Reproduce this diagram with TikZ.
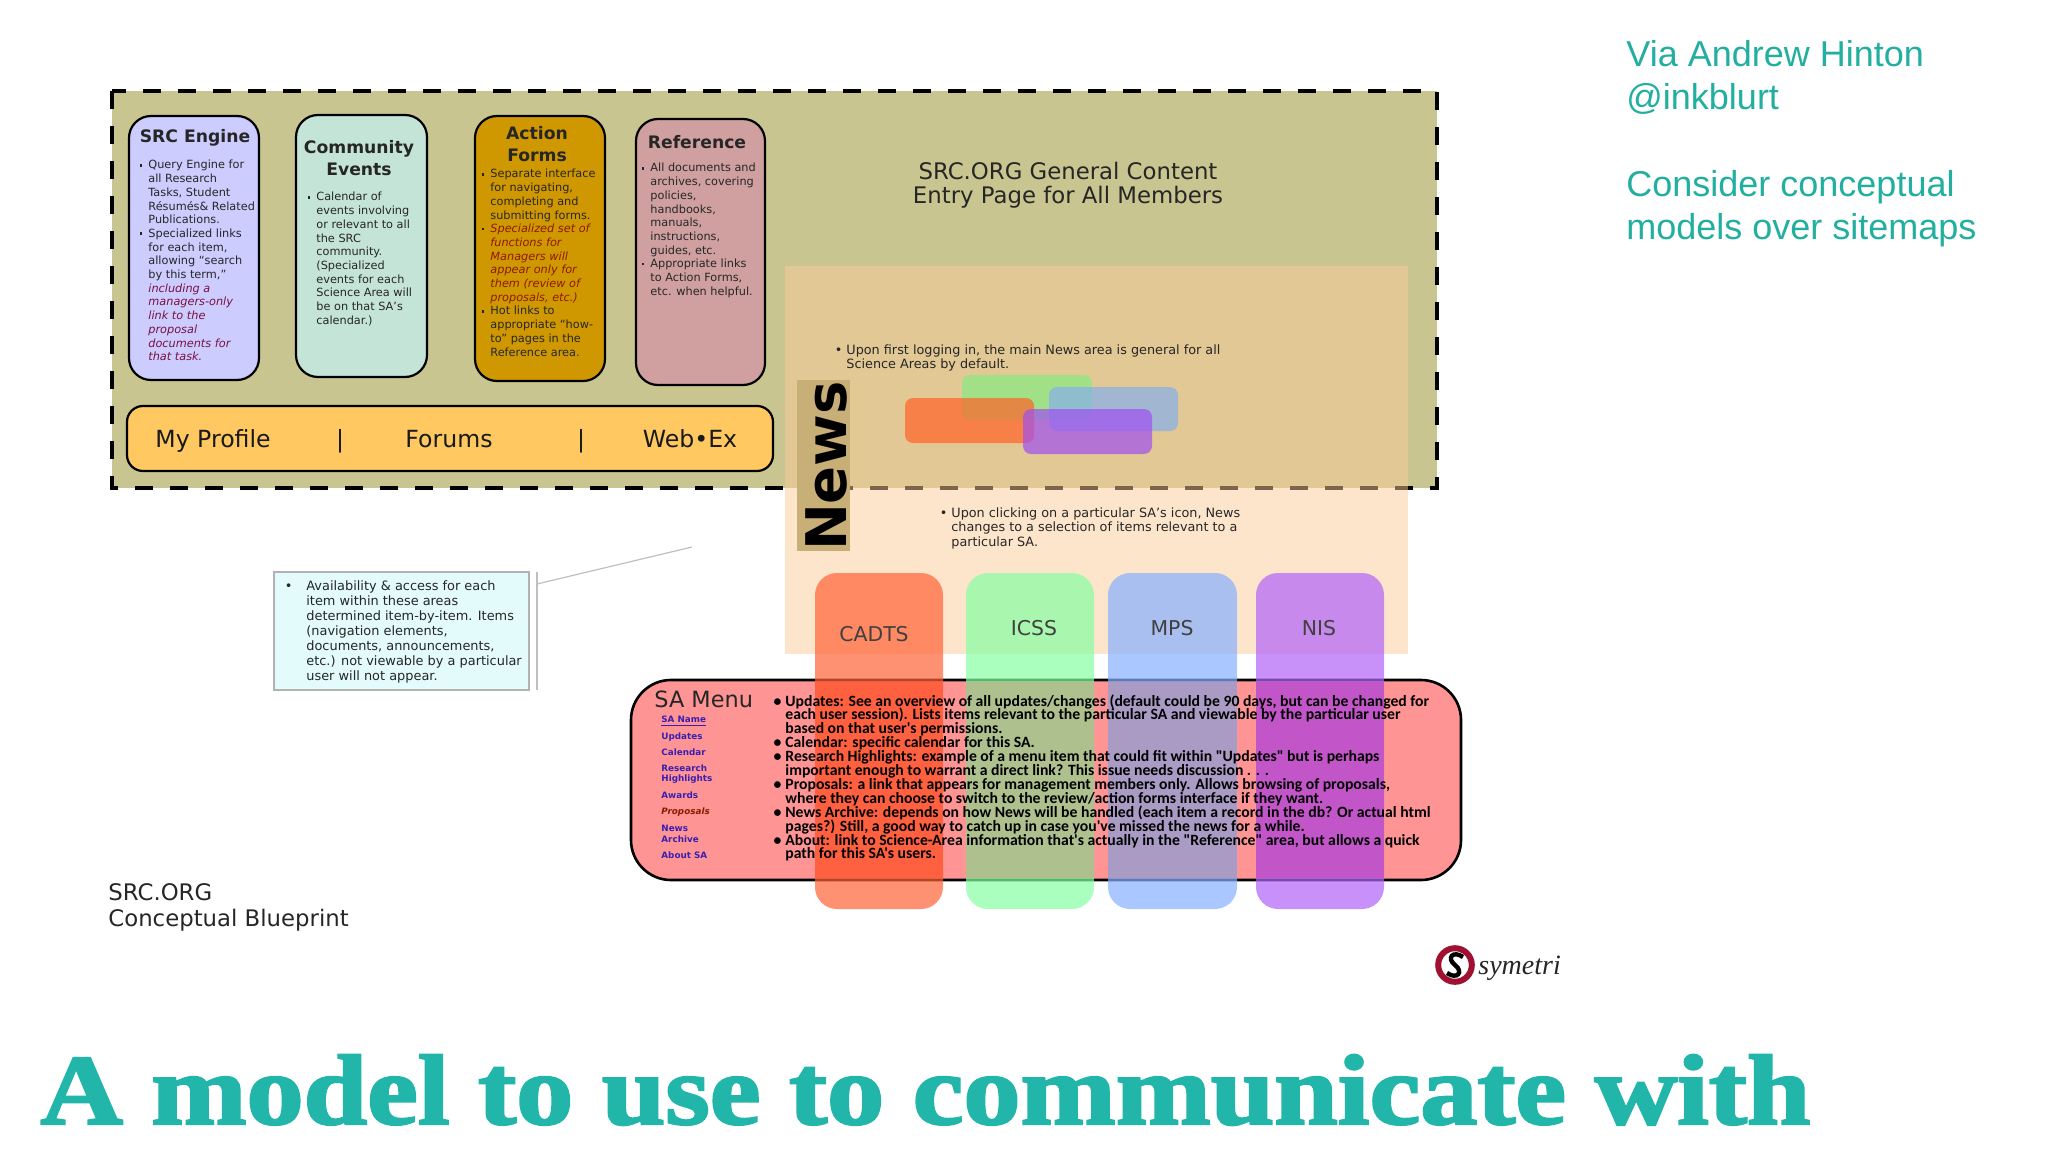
\documentclass[tikz,border=0pt]{standalone}
\usepackage{graphicx}
\usepackage{fontspec}
\setmainfont{DejaVu Sans}
\newfontfamily\menufont{Carlito}
\newfontfamily\sidefont{Liberation Sans}
\newfontfamily\titlefont{Liberation Serif}
\newfontfamily\slidefont[FakeBold=2.2]{Liberation Serif}
\usepackage{tikz}
\definecolor{olive back}{RGB}{201,197,144}
\definecolor{peach over}{RGB}{251,203,153}
\definecolor{news tag}{RGB}{200,175,120}
\definecolor{teal side}{RGB}{34,175,160}
\definecolor{teal title}{RGB}{34,181,170}
\definecolor{red note}{RGB}{122,16,64}
\definecolor{rust note}{RGB}{139,26,0}
\definecolor{link blue}{RGB}{58,31,176}
\definecolor{menu pink}{RGB}{255,148,148}
\definecolor{src fill}{RGB}{204,204,255}
\definecolor{community fill}{RGB}{196,228,216}
\definecolor{action fill}{RGB}{208,152,0}
\definecolor{reference fill}{RGB}{208,160,160}
\definecolor{bar fill}{RGB}{255,200,96}
\definecolor{cadts tab}{RGB}{255,98,55}
\definecolor{icss tab}{RGB}{134,255,162}
\definecolor{mps tab}{RGB}{134,176,255}
\definecolor{nis tab}{RGB}{176,98,248}
\definecolor{cadts mix}{RGB}{255,96,64}
\definecolor{icss mix}{RGB}{173,192,142}
\definecolor{mps mix}{RGB}{169,155,196}
\definecolor{nis mix}{RGB}{194,86,200}
\definecolor{green mini}{RGB}{134,235,130}
\definecolor{blue mini}{RGB}{134,176,235}
\definecolor{orange mini}{RGB}{255,98,40}
\definecolor{purple mini}{RGB}{160,80,240}
\definecolor{callout fill}{RGB}{228,251,251}
\definecolor{logo red}{RGB}{160,16,48}
\newcommand{\tightlines}{\lineskiplimit=-10pt\relax}
\tikzset{
	areabox/.style={draw=black, line width=1.1pt, rounded corners=11pt},
	tabbox/.style={rounded corners=11pt, opacity=0.7},
	minibox/.style={rounded corners=4pt, opacity=0.7},
	heading/.style={align=center, font=\bfseries\fontsize{8.6}{11}\selectfont, text=black!85},
	bodytext/.style={anchor=north west, align=left, inner sep=0pt, font=\fontsize{5.65}{6.85}\selectfont\tightlines, text=black!85},
	notetext/.style={anchor=north west, align=left, inner sep=0pt, font=\fontsize{6.4}{7.3}\selectfont\tightlines, text=black!85},
	tablabel/.style={font=\fontsize{10.2}{12}\selectfont, text=black!75},
	barlabel/.style={anchor=base, font=\fontsize{11.8}{13}\selectfont, text=black!90},
	linklabel/.style={anchor=west, inner sep=0pt, font=\bfseries\fontsize{4.4}{5.4}\selectfont, text=link blue},
	sidetext/.style={anchor=base west, inner sep=0pt, font=\sidefont\fontsize{18}{21}\selectfont, text=teal side}
}
\newcommand{\sqmark}{\leavevmode\llap{\rule[1.2pt]{1.3pt}{1.3pt}\hspace{3pt}}}
\newcommand{\dotmark}{\leavevmode\llap{\textbullet\hspace{2pt}}}
\begin{document}
\begin{tikzpicture}[x=0.5pt,y=-0.5pt]
	\useasboundingbox (0,0) rectangle (2048,1150);
	% general area
	\draw[black, fill=olive back, line width=2.3pt, dash pattern=on 9pt off 8.5pt] (112,91) rectangle (1437,488);
	\draw[areabox, fill=src fill] (129,116) rectangle (259,380);
	\draw[areabox, fill=community fill] (296,115) rectangle (427,377);
	\draw[areabox, fill=action fill] (475,116) rectangle (605,381);
	\draw[areabox, fill=reference fill] (636,119) rectangle (765,385);
	\node[heading] (srctitle) at (195,138) {SRC Engine};
	\node[heading] (communitytitle) at (359,158) {Community\\Events};
	\node[heading] (actiontitle) at (537,144) {Action\\Forms};
	\node[heading] (referencetitle) at (697,142) {Reference};
	\node[bodytext] (srcbody) at (148,160) {\sqmark Query Engine for\\all Research\\Tasks, Student\\Résumés\&{} Related\\Publications.\\\sqmark Specialized links\\for each item,\\allowing ``search\\by this term,''\\\color{red note}\itshape including a\\\color{red note}\itshape managers-only\\\color{red note}\itshape link to the\\\color{red note}\itshape proposal\\\color{red note}\itshape documents for\\\color{red note}\itshape that task.};
	\node[bodytext] (communitybody) at (316,192) {\sqmark Calendar of\\events involving\\or relevant to all\\the SRC\\community.\\(Specialized\\events for each\\Science Area will\\be on that SA's\\calendar.)};
	\node[bodytext] (actionbody) at (490,169) {\sqmark Separate interface\\for navigating,\\completing and\\submitting forms.\\\sqmark\color{rust note}\itshape Specialized set of\\\color{rust note}\itshape functions for\\\color{rust note}\itshape Managers will\\\color{rust note}\itshape appear only for\\\color{rust note}\itshape them (review of\\\color{rust note}\itshape proposals, etc.)\\\sqmark Hot links to\\appropriate ``how-\\to'' pages in the\\Reference area.};
	\node[bodytext] (referencebody) at (650,163) {\sqmark All documents and\\archives, covering\\policies,\\handbooks,\\manuals,\\instructions,\\guides, etc.\\\sqmark Appropriate links\\to Action Forms,\\etc. when helpful.};
	\draw[areabox, rounded corners=8pt, fill=bar fill] (127,406) rectangle (773,471);
	\node[barlabel] (myprofile) at (213,447) {My Profile};
	\node[barlabel] (barone) at (340,447) {|};
	\node[barlabel] (forums) at (449,447) {Forums};
	\node[barlabel] (bartwo) at (581,447) {|};
	\node[barlabel] (webex) at (690,447) {Web•Ex};
	\node[align=center, font=\fontsize{11.4}{11.8}\selectfont, text=black!85] (generaltitle) at (1068,185) {SRC.ORG General Content\\Entry Page for All Members};
	% news area
	\fill[peach over, opacity=0.5] (785,266) rectangle (1408,654);
	\fill[news tag] (797,380) rectangle (850,551);
	\node[rotate=90, inner sep=0pt, font=\bfseries\fontsize{28}{30}\selectfont, text=black] (newstag) at (826,466) {News};
	\fill[minibox, green mini] (962,375) rectangle (1092,420);
	\fill[minibox, blue mini] (1049,387) rectangle (1178,431);
	\fill[minibox, orange mini] (905,398) rectangle (1034,443);
	\fill[minibox, purple mini] (1023,409) rectangle (1152,454);
	\node[notetext] (firstnote) at (846,344) {\dotmark Upon first logging in, the main News area is general for all\\Science Areas by default.};
	\node[notetext] (secondnote) at (951,507) {\dotmark Upon clicking on a particular SA's icon, News\\changes to a selection of items relevant to a\\particular SA.};
	% science area menu
	\draw[fill=menu pink, line width=1.3pt, rounded corners=20pt] (631,680) rectangle (1461,880);
	\fill[tabbox, cadts tab] (815,573) rectangle (943,909);
	\fill[tabbox, icss tab] (966,573) rectangle (1094,909);
	\fill[tabbox, mps tab] (1108,573) rectangle (1237,909);
	\fill[tabbox, nis tab] (1256,573) rectangle (1384,909);
	\fill[cadts mix] (815,682) rectangle (943,878);
	\fill[icss mix] (966,682) rectangle (1094,878);
	\fill[mps mix] (1108,682) rectangle (1237,878);
	\fill[nis mix] (1256,682) rectangle (1384,878);
	\node[tablabel] (cadts) at (874,634) {CADTS};
	\node[tablabel] (icss) at (1034,628) {ICSS};
	\node[tablabel] (mps) at (1172,628) {MPS};
	\node[tablabel] (nis) at (1319,628) {NIS};
	\node[anchor=west, inner sep=0pt, font=\fontsize{11.2}{14}\selectfont, text=black!85] (samenu) at (654,699) {SA Menu};
	\node[linklabel] (saname) at (661,721) {\underline{SA Name}};
	\node[linklabel] (updates) at (661,737) {Updates};
	\node[linklabel] (calendar) at (661,752) {Calendar};
	\node[linklabel, align=left] (highlights) at (661,774) {Research\\Highlights};
	\node[linklabel] (awards) at (661,795) {Awards};
	\node[linklabel, text=rust note, font=\bfseries\itshape\fontsize{4.4}{5.4}\selectfont] (proposals) at (661,812) {Proposals};
	\node[linklabel, align=left] (archive) at (661,834) {News\\Archive};
	\node[linklabel] (aboutsa) at (661,855) {About SA};
	\node[anchor=north west, align=left, inner sep=0pt, font=\menufont\bfseries\fontsize{7.85}{6.95}\selectfont\tightlines, text=black] (menutext) at (785,694) {\dotmark Updates: See an overview of all updates/changes (default could be 90 days, but can be changed for\\each user session). Lists items relevant to the particular SA and viewable by the particular user\\based on that user's permissions.\\\dotmark Calendar: specific calendar for this SA.\\\dotmark Research Highlights: example of a menu item that could fit within "Updates" but is perhaps\\important enough to warrant a direct link? This issue needs discussion . . .\\\dotmark Proposals: a link that appears for management members only. Allows browsing of proposals,\\where they can choose to switch to the review/action forms interface if they want.\\\dotmark News Archive: depends on how News will be handled (each item a record in the db? Or actual html\\pages?) Still, a good way to catch up in case you've missed the news for a while.\\\dotmark About: link to Science-Area information that's actually in the "Reference" area, but allows a quick\\path for this SA's users.};
	% callout
	\draw[color=gray!60, fill=callout fill, line width=0.6pt] (274,572) rectangle (529,690);
	\node[anchor=north west, align=left, inner sep=0pt, font=\fontsize{6.45}{7.55}\selectfont\tightlines, text=black!85] (callout) at (306,580) {\leavevmode\llap{\textbullet\hspace{7pt}}Availability \& access for each\\item within these areas\\determined item-by-item. Items\\(navigation elements,\\documents, announcements,\\etc.) not viewable by a particular\\user will not appear.};
	\coordinate (ruletop) at (537,572);
	\coordinate (rulebottom) at (537,690);
	\coordinate (leaderstart) at (537,584);
	\coordinate (leaderend) at (692,547);
	\draw[color=gray!50, line width=0.6pt] (ruletop) -- (rulebottom);
	\draw[color=gray!50, line width=0.6pt] (leaderstart) -- (leaderend);
	% labels
	\node[anchor=north west, align=left, inner sep=0pt, font=\fontsize{11.4}{13}\selectfont, text=black!85] (blueprint) at (108,883) {SRC.ORG\\Conceptual Blueprint};
	\draw[color=logo red, fill=white, line width=3pt] (1455,965) circle (8.4pt);
	\draw[black, line width=2.2pt] (1463,957) .. controls (1453,950) and (1446,958) .. (1455,965) .. controls (1464,972) and (1457,980) .. (1447,973);
	\node[anchor=west, inner sep=0pt, font=\titlefont\itshape\fontsize{14}{16}\selectfont, text=black!85] (symetri) at (1478,968) {symetri};
	\node[sidetext] (viahinton) at (1626,67) {Via Andrew Hinton};
	\node[sidetext] (inkblurt) at (1626,110) {@inkblurt};
	\node[sidetext] (considertext) at (1626,197) {Consider conceptual};
	\node[sidetext] (modelstext) at (1626,240) {models over sitemaps};
	\node[anchor=base west, inner sep=0pt, text=teal title] (slidetitle) at (40,1124) {\resizebox{885pt}{\height}{\slidefont\bfseries\fontsize{50}{56}\selectfont A model to use to communicate with}};
\end{tikzpicture}
\end{document}
